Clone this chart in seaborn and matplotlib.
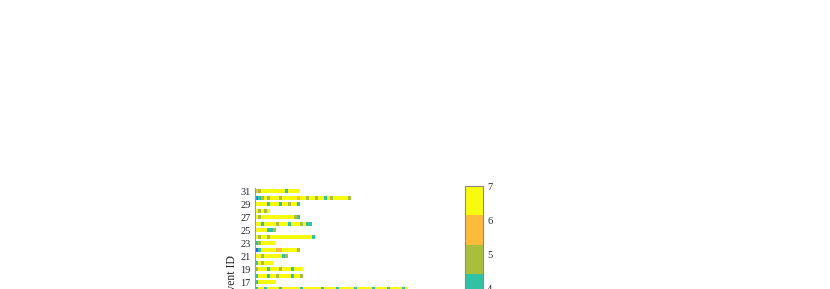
import numpy as np
import matplotlib
matplotlib.use("Agg")
import matplotlib.pyplot as plt
import seaborn as sns
from matplotlib.colors import ListedColormap

# ---- data: event ids (top to bottom) and per-event sequences of values ----
event_ids = [31, 30, 29, 28, 27, 26, 25, 24, 23, 22, 21, 20, 19, 18, 17, 16]

e31 = [5.7, 4.9, 6.6, 6.6, 6.6, 6.6, 6.6, 6.6, 6.6, 6.6, 4.0, 6.6, 6.6, 6.6, 6.6]
e30 = [3.1, 4.0, 4.9, 6.6, 4.9, 6.6, 6.6, 6.6, 4.9, 6.6, 6.6, 6.6, 6.6, 6.6, 5.7, 6.6,
       6.6, 4.9, 6.6, 6.6, 4.9, 6.6, 6.6, 4.0, 6.6, 4.9, 6.6, 6.6, 6.6, 6.6, 6.6, 4.9]
e29 = [6.6, 6.6, 6.6, 6.6, 4.0, 6.6, 6.6, 6.6, 4.0, 6.6, 6.6, 4.9, 6.6, 6.6, 4.0]
e28 = [6.6, 4.9, 6.6, 4.9, 6.6]
e27 = [6.6, 4.9, 6.6, 6.6, 6.6, 6.6, 6.6, 6.6, 6.6, 6.6, 6.6, 6.6, 6.6, 4.9, 4.0]
e26 = [6.6, 6.6, 4.0, 6.6, 6.6, 6.6, 6.6, 4.9, 6.6, 6.6, 6.6, 4.0, 6.6, 6.6, 6.6, 4.9,
       6.6, 4.0, 4.0]
e25 = [6.6, 6.6, 6.6, 6.6, 4.0, 4.0, 4.9]
e24 = [6.6, 4.9, 6.6, 6.6, 4.9, 6.6, 6.6, 6.6, 6.6, 6.6, 6.6, 6.6, 6.6, 6.6, 6.6, 6.6,
       6.6, 6.6, 6.6, 4.0]
e23 = [4.0, 4.9, 6.6, 6.6, 6.6, 6.6, 6.6]
e22 = [2.3, 4.0, 6.6, 6.6, 6.6, 6.6, 6.6, 5.7, 5.7, 6.6, 6.6, 6.6, 6.6, 6.6, 4.9]
e21 = [6.6, 6.6, 4.9, 6.6, 6.6, 6.6, 6.6, 6.6, 6.6, 4.0, 4.9]
e20 = [4.0, 6.6, 4.9, 6.6, 6.6, 6.6]
e19 = [4.9, 6.6, 6.6, 6.6, 4.0, 6.6, 6.6, 6.6, 4.9, 6.6, 6.6, 6.6, 4.0, 6.6, 6.6, 6.6]
e18 = [4.0, 6.6, 6.6, 6.6, 4.0, 6.6, 6.6, 4.9, 6.6, 6.6, 6.6, 6.6, 4.0, 6.6, 6.6, 4.9]
e17 = [4.0, 6.6, 6.6, 6.6, 6.6, 6.6, 6.6]
e16 = [4.0, 6.6, 6.6, 4.0, 6.6, 6.6, 6.6, 6.6, 4.0, 6.6, 6.6, 6.6, 6.6, 6.6, 6.6, 4.0,
       6.6, 6.6, 6.6, 6.6, 6.6, 6.6, 4.0, 6.6, 6.6, 6.6, 6.6, 4.0, 6.6, 6.6, 6.6, 6.6,
       6.6, 4.0, 6.6, 6.6, 6.6, 6.6, 6.6, 4.0, 6.6, 6.6, 6.6, 6.6, 4.0, 6.6, 6.6, 6.6,
       6.6, 4.0, 6.6]

rows = [e31, e30, e29, e28, e27, e26, e25, e24, e23, e22, e21, e20, e19, e18, e17, e16]
labelled_ids = [31, 29, 27, 25, 23, 21, 19, 17]
cbar_ticks = [1, 2, 3, 4, 5, 6, 7]

# ---- style ----
sns.set_style("white")
plt.rcParams["font.family"] = ["Liberation Serif", "DejaVu Serif"]

parula7 = ["#3e26a8", "#2a64f6", "#1799e0", "#31c2a4", "#a9bf3c", "#fdbb3c", "#f9fb0e"]
cmap = ListedColormap(parula7)

n_cols = 63
sub = 5  # sub-rows per event: blank, 3 filled, blank
M = np.full((len(rows) * sub, n_cols), np.nan)
for i, r in enumerate(rows):
    M[i * sub + 1:i * sub + 4, :len(r)] = r

W, H = 830, 289
fig = plt.figure(figsize=(W / 100, H / 100), dpi=100)
band = 6.5
n_axis_events = 27
top_px = 188
ax = fig.add_axes([255 / W, 1 - (top_px + n_axis_events * band) / H,
                   189 / W, n_axis_events * band / H])
cax = fig.add_axes([465 / W, 1 - 392 / H, 18 / W, 206 / H])

sns.heatmap(M, ax=ax, cbar_ax=cax, cmap=cmap, vmin=1, vmax=7,
            cbar_kws={"ticks": cbar_ticks}, xticklabels=False, yticklabels=False)

ax.set_ylim(n_axis_events * sub, 0)
ax.set_xlim(0, n_cols)
ax.spines["left"].set_visible(True)
ax.spines["left"].set_color("#9a9a9a")
ax.spines["left"].set_linewidth(0.8)
ypos = [event_ids.index(e) * sub + sub / 2 for e in labelled_ids]
ax.set_yticks(ypos)
ax.set_yticklabels([str(e) for e in labelled_ids], rotation=0)
ax.set_xticks([])
ax.tick_params(axis="y", direction="in", length=2, color="#9a9a9a",
               labelsize=7.5, pad=3, left=True)

cbar = ax.collections[0].colorbar
cbar.outline.set_edgecolor("#8a8a8a")
cbar.outline.set_linewidth(0.8)
cax.tick_params(direction="in", length=2, color="#8a8a8a", labelsize=7.5, pad=3)

fig.text(232 / W, 1 - 277 / H, "Event ID", rotation=90, ha="center", va="center",
         fontsize=8.5)

fig.savefig("out.png", dpi=100)
